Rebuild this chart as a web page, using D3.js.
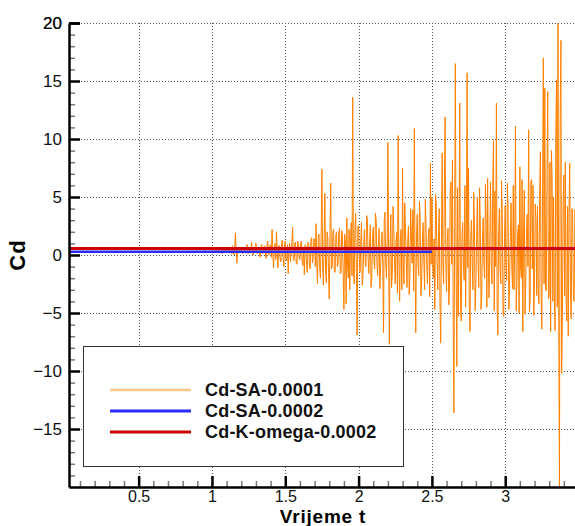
<!DOCTYPE html>
<html><head><meta charset="utf-8">
<script src="https://cdn.jsdelivr.net/npm/d3@7"></script>
<style>
body{margin:0;background:#fff}
svg{display:block}
text{font-family:"Liberation Sans",Arial,Helvetica,sans-serif}
</style>
</head><body>
<svg id="c" width="575" height="526"></svg>
<script>
// ---------- data ----------
const seriesNames = ["Cd-SA-0.0001", "Cd-SA-0.0002", "Cd-K-omega-0.0002"];
const seriesColors = ["#ff8000", "#2b2bff", "#cc0000"];
const legendColors = ["#ffc68c", "#2b2bff", "#cc0000"];

// Cd-SA-0.0001 : early part (t = 0 .. 0.975, step 0.025)
const saEarlyStart = 0.0, saEarlyStep = 0.025;
const saEarly = [0.45,0.5,0.52,0.48,0.5,0.55,0.47,0.5,0.52,0.49,
                 0.5,0.53,0.46,0.5,0.51,0.48,0.52,0.5,0.47,0.5,
                 0.53,0.49,0.5,0.51,0.48,0.5,0.52,0.47,0.5,0.5,
                 0.49,0.52,0.48,0.5,0.45,0.55,0.42,0.58,0.38,0.55];
// Cd-SA-0.0001 : noisy part (t = 1.0 .., step 0.005)
const saLateStart = 1.0, saLateStep = 0.005;
const saLate = [
  0.5,0.4,0.3,0.5,0.6,0.3,0.2,0.5,0.5,0.3,0.4,0.6,0.7,0.3,0.1,0.4,0.5,0.2,0.6,0.4,            // 1.0
  0.3,0.5,0.7,0.2,0.2,0.6,0.5,0.1,0.8,0.3,0.0,0.6,1.9,0.4,-0.7,0.5,0.6,0.2,0.3,0.5,           // 1.1
  0.7,0.3,0.1,0.5,0.6,0.2,0.3,0.6,0.9,0.1,0.2,0.6,0.5,0.2,1.1,0.3,0.0,0.5,0.6,0.2,            // 1.2
  1.0,0.2,0.1,0.6,0.7,0.0,-0.2,0.6,0.9,0.1,0.3,0.7,0.8,0.0,-0.3,0.7,1.2,0.1,0.0,0.8,          // 1.3
  0.9,-0.2,2.2,0.1,-1.1,0.6,1.0,-0.4,2.0,0.3,-1.1,0.8,0.8,-0.3,-0.6,1.0,1.3,-0.2,-1.0,0.9,    // 1.4
  1.2,-0.5,-0.3,0.9,-1.6,0.4,1.0,-0.6,0.2,1.1,2.4,-0.4,-0.5,1.0,1.1,-0.7,-0.8,1.2,0.9,-0.3,   // 1.5
  -0.4,1.0,1.2,-0.6,-0.9,0.5,-1.7,0.9,0.8,-0.8,-1.5,1.1,1.0,-0.9,-1.2,1.3,1.5,-0.7,-0.2,1.4,  // 1.6
  1.4,-1.0,2.7,-0.8,-2.5,1.6,1.8,-1.2,-2.0,1.9,7.4,-1.0,-2.6,1.5,5.3,-1.3,-2.4,2.0,1.5,-1.5,  // 1.7
  -3.8,1.5,6.2,-1.2,-1.0,2.0,2.2,-1.4,-1.5,1.7,2.0,-1.0,-0.8,1.9,2.3,-1.6,-1.5,2.1,1.8,-1.8,  // 1.8
  -4.7,1.8,1.2,-4.2,3.2,-1.0,-2.0,2.2,-3.0,1.5,2.8,-1.8,13.6,-1.2,-2.5,2.4,3.6,-1.5,-6.9,2.5, // 1.9
  2.5,-0.4,-1.5,1.2,2.8,-2.6,-1.8,0.8,2.2,-0.6,-1.0,3.4,3.0,-0.3,-1.6,1.0,2.6,-2.8,-2.0,1.4,  // 2.0
  2.4,-0.5,-1.2,3.6,3.0,-0.6,-1.8,1.0,2.3,-2.9,-1.3,0.9,2.0,-0.8,-6.7,3.0,3.7,-0.7,-2.0,1.2,  // 2.1
  9.7,-0.5,-7.7,1.0,3.5,-2.8,-1.5,4.2,2.2,-0.6,-2.5,1.1,2.0,-3.3,10.3,-0.4,-4.0,1.3,2.2,-3.0, // 2.2
  7.5,-0.9,-2.5,4.5,2.0,-0.4,-2.8,1.2,2.5,-3.4,-2.0,4.0,1.8,-0.7,3.9,-3.1,10.9,-0.8,-6.7,1.5, // 2.3
  3.5,-0.6,-1.8,4.6,3.2,-3.5,-2.2,1.1,2.8,-0.5,-3.0,4.8,2.5,-0.9,-2.5,1.4,2.3,-3.6,7.9,-0.8,  // 2.4
  5.0,-0.7,-2.0,1.4,-4.7,5.2,4.3,-0.6,-3.0,1.5,4.0,-4.0,-7.6,1.2,8.8,-0.9,-2.5,5.5,11.9,-0.6, // 2.5
  -3.2,1.3,2.3,-4.3,-2.8,5.6,6.3,-0.8,8.2,-4.6,-13.6,1.4,16.5,-1.0,-9.6,5.8,-5.3,1.2,13.1,-4.2,// 2.6
  -5.7,1.5,2.8,-0.9,-2.2,6.0,-4.5,1.3,15.7,-1.1,7.5,-4.4,-6.6,1.6,3.0,-0.8,-3.0,5.4,2.5,-4.8, // 2.7
  -2.5,1.4,5.0,-1.0,-2.8,5.8,3.0,-4.7,-3.7,1.5,3.2,-0.9,-2.0,6.1,3.0,-4.5,6.6,-1.1,-3.7,1.6,  // 2.8
  6.3,-0.9,-2.5,5.9,9.9,-4.8,5.5,-1.0,13.1,-4.6,-6.9,1.7,4.0,-1.2,-2.5,6.4,3.5,-4.9,-5.3,1.5, // 2.9
  4.3,-1.0,-2.2,6.2,3.5,-4.7,-2.0,1.6,4.5,-1.1,-2.9,6.0,-3.0,1.4,11.1,-4.8,-2.5,1.8,2.6,-5.0, // 3.0
  7.6,-1.2,-2.0,6.5,-6.6,1.7,5.6,-5.1,-2.6,1.9,3.5,-1.0,10.8,-4.9,-3.9,6.3,6.5,-1.2,6.0,-5.2, // 3.1
  -2.3,4.4,3.0,-3.5,4.2,-3.0,-4.2,5.5,8.9,-3.6,-6.4,6.0,17.0,-2.5,14.4,-3.0,-3.1,7.0,14.1,-3.8,// 3.2
  -3.5,8.0,-6.6,9.0,6.6,-4.0,5.0,-3.8,-6.5,10.0,15.1,-4.5,20.0,-5.0,-20.0,12.0,18.5,-10.2,-5.3,4.5, // 3.3
  6.9,-3.5,8.0,-3.8,-5.7,4.2,-7.0,3.8,7.9,-3.2,-5.5,4.0,3.5,-3.6,-4.0,3.9,3.0,-3.4,-3.5,3.7   // 3.4
];
// Cd-SA-0.0002 (t = 0 .. 2.5, step 0.1)
const sa2Start = 0.0, sa2Step = 0.1;
const sa2 = [0.28,0.27,0.28,0.28,0.27,0.28,0.29,0.28,0.27,0.28,
             0.28,0.29,0.28,0.27,0.28,0.28,0.29,0.28,0.28,0.27,
             0.28,0.29,0.28,0.28,0.27,0.28];
// Cd-K-omega-0.0002 (t = 0 .. 3.5, step 0.1)
const kwStart = 0.0, kwStep = 0.1;
const kw = [0.55,0.56,0.55,0.56,0.55,0.55,0.56,0.55,0.56,0.55,
            0.55,0.56,0.55,0.56,0.55,0.55,0.56,0.56,0.55,0.56,
            0.55,0.56,0.55,0.56,0.56,0.55,0.56,0.55,0.56,0.56,
            0.55,0.56,0.55,0.56,0.55,0.56];

const xMajorTicks = [0.5, 1, 1.5, 2, 2.5, 3];
const yMajorTicks = [-15, -10, -5, 0, 5, 10, 15, 20];
const xLabel = "Vrijeme t";
const yLabel = "Cd";

// ---------- build ----------
const toPts = (start, step, arr) => arr.map((v, i) => [start + i * step, v]);
const saData = toPts(saEarlyStart, saEarlyStep, saEarly).concat(toPts(saLateStart, saLateStep, saLate));
const sa2Data = toPts(sa2Start, sa2Step, sa2);
const kwData = toPts(kwStart, kwStep, kw);

const L = 69, R = 575, T = 23, B = 487;
const x = d3.scaleLinear().domain([0.025, 3.476]).range([L, R]);
const y = d3.scaleLinear().domain([-20, 20]).range([B, T]);

const svg = d3.select("#c");
svg.append("defs").append("clipPath").attr("id", "clip")
  .append("rect").attr("x", L).attr("y", T - 1).attr("width", R - L).attr("height", B - T + 1);

// grid
const grid = svg.append("g").attr("stroke", "#555").attr("stroke-width", 1).attr("stroke-dasharray", "1,2");
grid.selectAll(".gy").data(yMajorTicks).join("line")
  .attr("x1", L).attr("x2", R).attr("y1", d => Math.round(y(d)) + 0.5).attr("y2", d => Math.round(y(d)) + 0.5);
grid.selectAll(".gx").data(xMajorTicks).join("line")
  .attr("y1", T).attr("y2", B).attr("x1", d => Math.round(x(d)) + 0.5).attr("x2", d => Math.round(x(d)) + 0.5);

// lines
const line = d3.line().x(d => x(d[0])).y(d => y(d[1]));
const plot = svg.append("g").attr("clip-path", "url(#clip)");
plot.append("path").datum(saData).attr("d", line).attr("fill", "none")
  .attr("stroke", seriesColors[0]).attr("stroke-width", 1).attr("stroke-linejoin", "bevel");
plot.append("path").datum(sa2Data).attr("d", line).attr("fill", "none")
  .attr("stroke", seriesColors[1]).attr("stroke-width", 2.5);
plot.append("path").datum(kwData).attr("d", line).attr("fill", "none")
  .attr("stroke", seriesColors[2]).attr("stroke-width", 3);

// axes
const yMinor = d3.range(-19, 20, 1).filter(v => v % 5 !== 0);
const xMinor = d3.range(0.1, 3.45, 0.1).map(v => +v.toFixed(1)).filter(v => Math.abs(v * 2 - Math.round(v * 2)) > 1e-6);

const gyMinor = svg.append("g").attr("transform", `translate(${L},0)`)
  .call(d3.axisLeft(y).tickValues(yMinor).tickSize(-6).tickSizeOuter(0).tickFormat(""));
gyMinor.select(".domain").remove();
gyMinor.selectAll(".tick line").attr("stroke", "#777").attr("stroke-width", 1.5);

const gxMinor = svg.append("g").attr("transform", `translate(0,${B})`)
  .call(d3.axisBottom(x).tickValues(xMinor).tickSize(-6).tickSizeOuter(0).tickFormat(""));
gxMinor.select(".domain").remove();
gxMinor.selectAll(".tick line").attr("stroke", "#777").attr("stroke-width", 1.5);

const gy = svg.append("g").attr("transform", `translate(${L},0)`)
  .call(d3.axisLeft(y).tickValues(yMajorTicks.concat([20])).tickSize(-11).tickSizeOuter(0).tickPadding(7).tickFormat(d3.format("d")));
gy.select(".domain").attr("stroke", "#000").attr("stroke-width", 2.5);
gy.selectAll(".tick line").attr("stroke", "#000").attr("stroke-width", 2.5);
gy.selectAll(".tick text").attr("font-size", 17).attr("fill", "#111").style("font-family", '"Liberation Sans",Arial,sans-serif');

const gx = svg.append("g").attr("transform", `translate(0,${B})`)
  .call(d3.axisBottom(x).tickValues(xMajorTicks).tickSize(-11).tickSizeOuter(0).tickPadding(4).tickFormat(d3.format("")));
gx.select(".domain").attr("stroke", "#000").attr("stroke-width", 2.5);
gx.selectAll(".tick line").attr("stroke", "#000").attr("stroke-width", 2.5);
gx.selectAll(".tick text").attr("font-size", 16).attr("fill", "#111").style("font-family", '"Liberation Sans",Arial,sans-serif');

// axis titles
svg.append("text").attr("x", (L + R) / 2 + 1).attr("y", 523).attr("text-anchor", "middle")
  .attr("font-size", 19).attr("font-weight", "bold").attr("fill", "#000").attr("letter-spacing", 0.8).text(xLabel);
svg.append("text").attr("transform", `translate(25,${(T + B) / 2}) rotate(-90)`).attr("text-anchor", "middle")
  .attr("font-size", 22).attr("font-weight", "bold").attr("fill", "#000").attr("letter-spacing", 1).text(yLabel);

// legend
const lg = svg.append("g");
lg.append("rect").attr("x", 83.5).attr("y", 346.5).attr("width", 320).attr("height", 120)
  .attr("fill", "#fff").attr("stroke", "#333").attr("stroke-width", 1);
const ly = d3.scalePoint().domain(seriesNames).range([390, 432]);
seriesNames.forEach((n, i) => {
  lg.append("line").attr("x1", 110).attr("x2", 191).attr("y1", ly(n)).attr("y2", ly(n))
    .attr("stroke", legendColors[i]).attr("stroke-width", i === 0 ? 2.5 : 3);
  lg.append("text").attr("x", 205).attr("y", ly(n) + 6).attr("font-size", 18).attr("font-weight", "bold")
    .attr("fill", "#111").attr("letter-spacing", 0.2).text(n);
});
</script>
</body></html>
